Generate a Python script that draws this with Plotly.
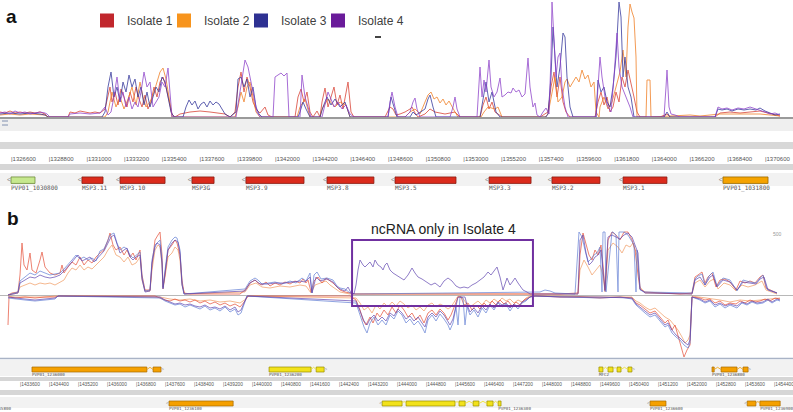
import plotly.graph_objects as go

W, H = 793, 412
FONT = "Liberation Sans, Arial, sans-serif"

# ---------------- Panel a: genomic window (coverage bins) ----------------
A_BIN = 58.36          # bp per coverage bin
A_ORIGIN = 1325958     # genomic position of bin 0

# coverage (bin, depth) for panel a
a_iso1 = [(0,5),(5,4),(10,6),(15,4),(20,5),(25,4),(30,5),(35,4),(40,5),(45,3),(48,0),(68,0),(70,5),(75,4),(80,6),(85,5),(90,4),(95,5),(100,4),(105,8),(108,20),(110,30),(112,15),(115,25),(118,12),(121,28),(124,20),(127,10),(130,25),(133,15),(136,30),(139,18),(142,10),(145,22),(148,8),(151,15),(154,30),(157,20),(160,35),(163,40),(166,30),(169,15),(172,3),(175,0),(180,3),(190,5),(200,6),(210,5),(220,4),(225,3),(230,0),(235,5),(238,30),(241,45),(244,25),(247,40),(250,30),(253,15),(256,8),(260,4),(265,10),(268,2),(272,0),(295,0),(298,20),(301,28),(304,15),(307,25),(310,5),(313,0),(317,6),(320,0),(322,15),(325,29),(328,10),(331,20),(334,30),(337,12),(340,22),(343,8),(346,25),(348,35),(351,5),(354,0),(385,0),(390,10),(393,8),(396,2),(400,3),(405,5),(410,8),(412,10),(415,4),(418,0),(425,3),(430,8),(435,5),(445,3),(455,5),(460,0),(480,0),(483,12),(486,20),(489,8),(492,15),(495,5),(498,3),(502,0),(540,0),(548,5),(551,30),(554,45),(557,20),(560,40),(563,15),(566,5),(570,0),(595,0),(598,15),(601,25),(604,12),(607,20),(610,5),(613,10),(616,25),(619,15),(622,40),(625,30),(628,47),(631,35),(634,20),(637,5),(640,0),(660,0),(667,3),(670,0),(715,0),(720,4),(730,5),(740,4),(750,5),(760,6),(768,4),(775,2),(780,1)]
a_iso2 = [(0,2),(10,3),(20,2),(30,3),(45,2),(48,0),(105,0),(108,5),(112,25),(116,10),(120,20),(124,8),(128,18),(132,30),(136,12),(140,35),(143,20),(146,10),(150,15),(154,25),(157,35),(160,45),(163,49),(166,38),(169,20),(172,0),(235,0),(238,10),(241,25),(244,15),(247,30),(250,35),(253,20),(256,5),(260,0),(297,0),(300,10),(305,18),(310,0),(320,0),(322,8),(328,18),(335,10),(340,15),(346,12),(350,0),(405,0),(410,5),(415,8),(420,3),(425,15),(428,22),(431,25),(434,18),(437,20),(440,14),(443,18),(446,12),(449,16),(452,10),(455,5),(458,0),(481,0),(484,5),(488,10),(495,8),(498,10),(502,0),(545,0),(548,3),(552,25),(555,40),(558,15),(562,20),(565,35),(567,38),(570,30),(573,35),(576,40),(579,35),(582,47),(585,38),(588,42),(591,30),(594,35),(596,5),(599,0),(600,10),(604,20),(608,8),(612,15),(616,30),(620,45),(623,67),(626,40),(628,90),(630,113),(632,105),(634,99),(636,60),(637,0),(646,0),(647,37),(650,37),(651,0),(690,2),(700,1),(720,3),(740,3),(760,3),(780,1)]
a_iso3 = [(0,3),(10,4),(20,3),(30,4),(40,3),(45,2),(48,0),(102,0),(105,5),(108,30),(111,45),(114,20),(117,30),(120,15),(123,35),(126,25),(129,42),(132,30),(135,38),(138,20),(141,30),(144,12),(147,25),(150,10),(153,20),(156,30),(159,25),(162,40),(165,35),(168,20),(171,5),(174,0),(183,0),(186,10),(189,17),(192,12),(195,16),(198,8),(201,13),(204,15),(207,10),(210,16),(213,12),(216,15),(219,13),(222,8),(225,3),(230,0),(236,5),(238,38),(241,40),(244,30),(247,38),(250,20),(253,30),(256,10),(259,3),(262,0),(298,0),(300,5),(303,15),(306,8),(310,0),(320,0),(323,10),(327,20),(331,12),(335,18),(340,10),(345,15),(350,0),(388,0),(391,20),(394,10),(397,0),(410,0),(413,5),(416,2),(425,8),(428,18),(430,22),(433,10),(436,0),(480,0),(483,20),(486,35),(489,15),(492,25),(496,5),(500,0),(546,0),(548,3),(551,40),(553,90),(555,60),(557,30),(560,50),(563,84),(565,80),(567,40),(570,10),(573,0),(596,0),(598,37),(601,25),(604,30),(607,15),(610,10),(613,30),(616,60),(619,115),(621,100),(623,40),(625,60),(628,30),(631,20),(634,0),(664,0),(667,5),(670,0),(715,0),(718,8),(722,7),(727,8),(732,6),(738,8),(744,7),(750,8),(756,7),(760,9),(765,6),(770,4),(775,2),(780,3)]
a_iso4 = [(0,4),(5,5),(10,3),(15,6),(20,4),(25,5),(30,3),(35,4),(40,5),(45,4),(47,3),(50,0),(68,0),(70,3),(80,4),(90,3),(100,4),(105,10),(108,2),(111,5),(114,20),(117,40),(120,15),(123,25),(126,10),(129,20),(132,8),(135,15),(138,10),(141,25),(144,45),(147,30),(150,35),(153,10),(156,15),(159,20),(162,35),(165,30),(168,49),(170,25),(172,0),(236,0),(239,20),(242,40),(245,57),(248,50),(251,35),(254,20),(257,5),(260,0),(273,0),(275,40),(278,42),(281,44),(284,41),(287,44),(289,0),(300,0),(302,42),(305,20),(308,10),(311,0),(322,0),(325,12),(328,25),(331,18),(334,10),(338,15),(342,8),(346,12),(350,3),(354,0),(388,0),(390,15),(392,25),(395,10),(398,0),(405,0),(410,5),(413,15),(415,19),(417,8),(420,0),(450,0),(453,10),(455,20),(457,8),(460,0),(477,0),(480,50),(482,20),(484,37),(486,25),(489,57),(491,30),(494,20),(497,25),(500,39),(502,20),(505,22),(508,25),(511,24),(513,29),(516,25),(519,27),(522,20),(525,23),(528,59),(530,30),(533,10),(535,14),(537,2),(540,0),(543,5),(546,9),(549,3),(551,60),(552,115),(554,70),(556,40),(558,60),(560,64),(562,30),(565,10),(568,0),(596,0),(598,30),(600,60),(602,40),(605,20),(608,10),(611,5),(614,40),(617,84),(619,50),(622,30),(626,20),(630,10),(633,0),(664,0),(666,30),(667,47),(669,10),(671,3),(675,2),(680,0),(715,0),(718,10),(722,8),(727,9),(732,7),(738,9),(744,8),(750,10),(756,8),(760,7),(765,5),(770,3),(775,4),(780,2)]

ruler_a = [1326600, 1328800, 1331000, 1333200, 1335400, 1337600, 1339800, 1342000,
           1344200, 1346400, 1348600, 1350800, 1353000, 1355200, 1357400, 1359600,
           1361800, 1364000, 1366200, 1368400, 1370600]

genes_a_name = ["PVP01_1030800", "MSP3.11", "MSP3.10", "MSP3G", "MSP3.9", "MSP3.8",
                "MSP3.5", "MSP3.3", "MSP3.2", "MSP3.1", "PVP01_1031800"]
genes_a_start = [1326600, 1330740, 1332960, 1337160, 1340310, 1345040, 1349010, 1354500, 1358170, 1362320, 1368150]
genes_a_end   = [1328000, 1331970, 1335590, 1338450, 1343700, 1347780, 1352570, 1356950, 1360970, 1364880, 1370780]
genes_a_type  = ["other", "msp3", "msp3", "msp3", "msp3", "msp3", "msp3", "msp3", "msp3", "msp3", "pvp"]

# ---------------- Panel b ----------------
B_BIN = 27.586
B_ORIGIN = 1433048

b_iso1_plus = [(8,0),(12,2),(18,3),(20,20),(22,52),(24,30),(27,25),(30,42),(32,25),(36,22),(40,35),(42,43),(45,28),(50,22),(55,20),(60,22),(62,30),(64,22),(68,28),(72,33),(76,30),(80,38),(84,30),(88,35),(92,32),(96,38),(100,42),(104,45),(108,55),(110,62),(113,50),(116,45),(120,48),(124,40),(127,45),(130,38),(133,42),(136,35),(140,45),(142,20),(145,5),(150,5),(152,30),(155,55),(158,60),(160,63),(162,40),(163,8),(165,20),(168,45),(172,50),(175,55),(177,52),(180,40),(182,15),(184,2),(190,1),(240,1),(245,5),(250,12),(255,15),(258,12),(262,10),(266,13),(270,9),(275,12),(280,10),(285,13),(290,11),(295,14),(300,12),(303,16),(306,12),(308,15),(311,3),(314,14),(318,18),(322,12),(326,17),(330,14),(333,12),(337,8),(340,5),(345,3),(350,2),(355,1),(530,1),(560,1),(578,2),(580,40),(583,62),(586,50),(589,40),(592,35),(595,45),(598,40),(601,50),(603,30),(605,5),(608,55),(612,63),(616,60),(620,55),(624,63),(628,63),(632,55),(635,45),(638,20),(640,6),(645,3),(660,2),(680,1),(692,2),(695,18),(698,20),(702,23),(705,12),(708,18),(712,22),(716,8),(720,15),(725,16),(730,13),(736,5),(740,14),(745,12),(750,14),(755,12),(760,18),(763,20),(766,7),(770,5),(777,2)]
b_iso2_plus = [(8,0),(18,2),(20,8),(25,10),(30,12),(35,10),(40,12),(45,11),(50,12),(55,10),(60,13),(64,15),(68,22),(72,27),(76,25),(80,30),(84,25),(88,28),(92,26),(96,30),(100,35),(104,38),(108,45),(112,50),(116,40),(120,38),(124,33),(128,38),(132,30),(136,32),(140,38),(142,15),(145,4),(150,4),(152,25),(155,45),(158,50),(160,48),(162,30),(163,6),(165,18),(168,38),(172,42),(175,48),(178,45),(180,35),(182,10),(185,1),(245,3),(250,10),(256,12),(262,8),(270,7),(280,9),(290,8),(300,10),(306,9),(311,2),(315,10),(320,12),(326,14),(330,10),(336,6),(340,3),(350,1),(578,1),(580,25),(584,35),(588,28),(592,20),(596,25),(600,30),(603,20),(605,3),(608,45),(613,52),(618,48),(622,42),(626,50),(630,48),(633,52),(637,40),(640,8),(645,2),(692,1),(695,12),(700,15),(705,8),(710,14),(714,16),(718,6),(724,12),(730,10),(736,4),(742,10),(748,8),(755,10),(762,14),(766,5),(777,1)]
b_iso3_plus = [(8,0),(18,3),(20,14),(25,18),(30,22),(35,20),(40,24),(45,22),(50,20),(55,21),(60,22),(64,26),(68,30),(72,35),(76,40),(80,36),(84,38),(88,35),(92,37),(96,34),(100,44),(104,46),(108,55),(110,60),(114,62),(117,52),(120,45),(124,48),(127,46),(130,40),(133,37),(136,40),(140,43),(142,18),(145,4),(150,5),(152,35),(155,50),(157,52),(160,55),(162,35),(163,7),(165,25),(168,48),(172,55),(175,58),(177,57),(180,45),(182,12),(184,1),(245,6),(250,14),(255,17),(258,15),(262,11),(268,12),(275,13),(282,11),(290,14),(296,12),(302,17),(306,14),(310,22),(312,2),(314,20),(317,23),(321,16),(327,17),(333,15),(337,9),(340,7),(345,6),(350,2),(355,1),(540,3),(545,5),(550,4),(555,2),(575,1),(579,63),(582,58),(585,45),(588,33),(591,36),(594,40),(597,42),(600,48),(602,3),(603,63),(605,63),(606,3),(612,63),(613,63),(616,60),(618,3),(619,63),(624,63),(628,60),(631,55),(634,50),(636,3),(637,45),(640,5),(645,3),(692,2),(695,16),(698,19),(702,21),(705,10),(709,19),(713,23),(717,9),(723,17),(730,15),(737,4),(743,15),(750,13),(756,12),(760,17),(763,20),(767,6),(772,4),(777,2)]
b_iso4_plus = [(8,0),(18,2),(20,12),(25,15),(30,18),(35,17),(40,20),(45,18),(50,17),(55,18),(60,20),(64,24),(68,28),(72,33),(76,38),(78,40),(82,34),(86,36),(90,38),(94,33),(100,40),(104,44),(108,52),(111,58),(114,60),(117,50),(120,42),(124,45),(127,47),(130,38),(133,35),(136,38),(140,40),(142,16),(145,3),(150,4),(152,32),(155,48),(157,52),(160,50),(162,32),(163,6),(165,22),(168,45),(172,52),(175,55),(178,53),(180,42),(182,10),(184,1),(245,4),(250,12),(255,15),(260,11),(268,11),(275,12),(285,12),(292,13),(300,14),(305,13),(310,18),(312,2),(316,18),(320,14),(327,16),(333,13),(337,8),(340,6),(345,4),(348,8),(351,2),(354,1),(356,10),(358,25),(360,35),(363,30),(365,28),(367,30),(370,33),(373,28),(375,35),(378,30),(381,28),(383,25),(385,30),(387,32),(390,25),(393,22),(396,20),(400,18),(404,15),(408,20),(412,27),(415,22),(418,18),(422,16),(427,13),(431,10),(435,12),(440,8),(444,14),(448,17),(452,14),(456,9),(460,7),(464,8),(468,7),(472,10),(476,12),(480,15),(484,18),(488,23),(491,20),(494,24),(497,28),(500,18),(503,5),(507,17),(510,10),(513,14),(515,17),(518,12),(521,8),(523,5),(527,3),(530,1),(560,1),(578,1),(580,55),(583,60),(586,42),(589,30),(592,33),(595,38),(598,40),(601,45),(603,25),(605,4),(608,58),(612,60),(616,58),(620,56),(624,60),(628,62),(632,58),(635,50),(638,42),(640,6),(645,2),(692,1),(695,15),(700,18),(705,10),(710,18),(713,20),(717,8),(723,15),(730,13),(737,5),(743,13),(750,12),(756,11),(760,16),(764,18),(768,5),(777,2)]

b_iso1_minus = [(8,-30),(9,-2),(15,-3),(25,-2),(35,-3),(45,-2),(55,-2),(60,-1),(155,-1),(160,-3),(165,-5),(170,-6),(175,-4),(180,-6),(185,-5),(190,-7),(195,-5),(200,-8),(205,-6),(210,-9),(215,-7),(220,-10),(225,-8),(230,-11),(235,-9),(240,-12),(245,-6),(248,-1),(350,-1),(356,-5),(360,-15),(363,-25),(366,-30),(370,-22),(373,-28),(377,-18),(380,-22),(384,-15),(388,-20),(392,-12),(396,-18),(400,-10),(404,-15),(408,-22),(412,-18),(416,-25),(420,-20),(424,-28),(428,-18),(432,-15),(436,-20),(440,-14),(444,-18),(448,-25),(451,-20),(455,-10),(458,-2),(461,-2),(464,-10),(468,-8),(472,-15),(476,-10),(480,-14),(484,-8),(488,-12),(492,-6),(496,-10),(500,-5),(504,-9),(508,-6),(512,-11),(516,-7),(520,-10),(524,-5),(528,-3),(532,-1),(540,-1),(560,-2),(580,-2),(600,-3),(620,-2),(632,-3),(636,-8),(640,-10),(645,-14),(650,-18),(655,-16),(660,-22),(665,-28),(668,-25),(672,-35),(675,-30),(678,-40),(681,-50),(684,-62),(687,-55),(690,-50),(692,-2),(700,-3),(705,-5),(710,-4),(715,-8),(720,-6),(725,-10),(730,-8),(736,-9),(740,-6),(745,-8),(750,-5),(755,-7),(760,-6),(765,-4),(770,-6),(775,-3),(780,-4)]
b_iso2_minus = [(8,-1),(15,-2),(30,-2),(45,-2),(55,-1),(160,-2),(170,-4),(180,-5),(190,-4),(200,-6),(210,-5),(220,-7),(230,-6),(240,-8),(246,-4),(248,-1),(356,-3),(360,-8),(364,-15),(368,-12),(372,-18),(376,-10),(380,-14),(384,-8),(388,-12),(392,-7),(396,-11),(400,-6),(404,-9),(408,-13),(412,-10),(416,-15),(420,-12),(424,-16),(428,-10),(432,-8),(436,-12),(440,-9),(444,-11),(448,-14),(451,-12),(455,-6),(458,-1),(462,-2),(466,-8),(470,-12),(474,-9),(478,-6),(482,-10),(486,-5),(490,-8),(494,-4),(498,-7),(502,-3),(506,-6),(510,-4),(514,-8),(518,-5),(522,-7),(526,-3),(530,-1),(560,-1),(600,-2),(632,-2),(636,-6),(640,-8),(645,-12),(650,-15),(655,-13),(660,-18),(665,-22),(670,-25),(674,-30),(678,-35),(682,-42),(685,-48),(688,-45),(690,-40),(692,-1),(700,-2),(710,-4),(720,-5),(730,-7),(740,-5),(750,-6),(760,-5),(770,-4),(780,-3)]
b_iso3_minus = [(8,-3),(15,-4),(25,-5),(35,-6),(45,-5),(55,-4),(58,-1),(160,-3),(165,-6),(170,-8),(175,-10),(180,-9),(185,-12),(190,-10),(195,-12),(200,-14),(205,-11),(210,-15),(215,-13),(220,-16),(225,-12),(230,-17),(235,-14),(238,-20),(241,-18),(244,-10),(247,-1),(356,-8),(360,-20),(364,-32),(367,-38),(370,-28),(374,-22),(378,-30),(382,-25),(386,-30),(390,-20),(394,-24),(398,-16),(402,-20),(406,-28),(410,-24),(414,-30),(418,-26),(422,-32),(425,-38),(428,-25),(432,-20),(436,-26),(440,-19),(444,-24),(448,-30),(450,-35),(453,-28),(456,-12),(458,-30),(460,-2),(463,-3),(465,-30),(467,-12),(470,-20),(474,-15),(478,-22),(482,-13),(486,-18),(490,-10),(494,-15),(498,-8),(502,-12),(506,-9),(510,-16),(514,-10),(518,-14),(522,-8),(526,-6),(530,-2),(535,-1),(560,-2),(600,-3),(620,-2),(632,-4),(636,-10),(640,-14),(645,-18),(650,-22),(655,-20),(660,-26),(665,-32),(668,-30),(672,-38),(676,-42),(680,-45),(684,-50),(688,-53),(690,-48),(692,-2),(700,-5),(705,-8),(710,-6),(715,-12),(720,-9),(725,-13),(730,-10),(737,-13),(742,-8),(747,-10),(752,-7),(757,-9),(763,-8),(768,-5),(772,-8),(777,-5),(780,-6)]
b_iso4_minus = [(8,-2),(15,-3),(25,-4),(35,-5),(45,-4),(55,-3),(58,-1),(160,-2),(165,-5),(170,-7),(175,-9),(180,-8),(185,-10),(190,-9),(195,-11),(200,-12),(205,-10),(210,-13),(215,-12),(220,-14),(225,-11),(230,-15),(235,-12),(238,-17),(241,-15),(244,-8),(247,-1),(356,-6),(360,-16),(364,-26),(367,-30),(370,-24),(374,-20),(378,-26),(382,-22),(386,-26),(390,-18),(394,-21),(398,-14),(402,-18),(406,-24),(410,-21),(414,-26),(418,-22),(422,-28),(425,-32),(428,-22),(432,-18),(436,-22),(440,-16),(444,-20),(448,-26),(450,-30),(453,-24),(456,-10),(458,-2),(465,-2),(467,-10),(470,-17),(474,-13),(478,-18),(482,-11),(486,-15),(490,-9),(494,-13),(498,-7),(502,-10),(506,-8),(510,-13),(514,-9),(518,-12),(522,-7),(526,-5),(530,-2),(535,-1),(560,-2),(600,-2),(632,-3),(636,-9),(640,-12),(645,-16),(650,-20),(655,-18),(660,-24),(665,-30),(668,-28),(672,-35),(676,-40),(680,-43),(684,-47),(688,-50),(690,-45),(692,-2),(700,-4),(705,-7),(710,-5),(715,-10),(720,-8),(725,-11),(730,-9),(737,-11),(742,-7),(747,-9),(752,-6),(757,-8),(763,-7),(768,-4),(772,-7),(777,-4),(780,-5)]

ruler_b = [1433600, 1434400, 1435200, 1436000, 1436800, 1437600, 1438400, 1439200,
           1440000, 1440800, 1441600, 1442400, 1443200, 1444000, 1444800, 1445600,
           1446400, 1447200, 1448000, 1448800, 1449600, 1450400, 1451200, 1452000,
           1452800, 1453600, 1454400]

# forward-strand genes (track above ruler)
genes_b1_name = ["PVP01_1236000", "PVP01_1236200", "MFC2", "PVP01_1236800"]
genes_b1_exons = [[(1433930, 1437100), (1437270, 1437490)],
                  [(1440470, 1441630), (1441770, 1441990)],
                  [(1449570, 1449680), (1449820, 1449960), (1450070, 1450180), (1450370, 1450480)],
                  [(1452690, 1452750), (1452940, 1453380), (1453545, 1453685)]]
genes_b1_label = [1433930, 1440470, 1449570, 1452690]
genes_b1_anchor = ["middle right"] * 4
genes_b1_type = ["orange", "yellow", "yellow", "orange"]

# reverse-strand genes (track below ruler)
genes_b2_name = ["PVP01_1235800", "PVP01_1236100", "PVP01_1236300", "PVP01_1236600", "PVP01_1236900"]
genes_b2_exons = [[(1432300, 1432700)],
                  [(1437710, 1439480)],
                  [(1443590, 1444140), (1444250, 1445600), (1445710, 1445880), (1446100, 1446260), (1446480, 1446650), (1446790, 1446870)],
                  [(1450980, 1451420)],
                  [(1453660, 1453900), (1454010, 1454570)]]
genes_b2_label = [1433350, 1437710, 1446790, 1450980, 1454020]
genes_b2_anchor = ["middle left", "middle right", "middle right", "middle right", "middle right"]
genes_b2_type = ["orange", "orange", "yellow", "orange", "orange"]

NCRNA_REGION = (1442760, 1447750)

# ---------------- styling ----------------
legend_names = ["Isolate 1", "Isolate 2", "Isolate 3", "Isolate 4"]
legend_colors = ["#c1272d", "#f7941d", "#2e3192", "#6a1b9a"]
a_colors = ["#d8392b", "#f07a1c", "#2d2f98", "#8a3cc8"]
b_colors = ["#e4462e", "#f0965a", "#5a78d2", "#5b3fae"]
gene_fill = {"msp3": "#db2b1c", "other": "#c6e88e", "pvp": "#f5a300",
             "orange": "#f5a000", "yellow": "#f2e21a"}
gene_line = {"msp3": "#8a1c12", "other": "#6e8c3a", "pvp": "#9a6a00",
             "orange": "#a86a00", "yellow": "#9a8e00"}


def dom(top_px, bot_px):
    return [max(0.0, 1 - bot_px / H), min(1.0, 1 - top_px / H)]


def track(box_px, label_px, pad=0.8):
    """Axis for a gene track: y=0 is the feature row, y=1 the label row."""
    u = label_px - box_px
    top = max(0.0, box_px - pad * u)
    bot = min(float(H), label_px + pad * u)
    return dict(domain=dom(top, bot), range=[(bot - box_px) / u, (top - box_px) / u],
                visible=False, showgrid=False, zeroline=False), u


def ax(b):
    return A_ORIGIN + b * A_BIN


def bx(b):
    return B_ORIGIN + b * B_BIN


fig = go.Figure()

# panel a coverage
for s, c in zip([a_iso1, a_iso2, a_iso3, a_iso4], a_colors):
    fig.add_trace(go.Scatter(x=[ax(p) for p, _ in s], y=[v for _, v in s], mode="lines",
                             line=dict(color=c, width=1), opacity=0.75,
                             xaxis="x", yaxis="y", showlegend=False, hoverinfo="skip"))

# legend entries (plus an empty spacer so the last label is not clipped)
for n, c in zip(legend_names, legend_colors):
    fig.add_trace(go.Scatter(x=[None], y=[None], mode="markers", name=n,
                             marker=dict(symbol="square", size=14, color=c),
                             xaxis="x", yaxis="y"))
fig.add_trace(go.Scatter(x=[None], y=[None], mode="markers", name=" ",
                         marker=dict(symbol="square", size=14, color="rgba(0,0,0,0)"),
                         xaxis="x", yaxis="y", hoverinfo="skip"))

# panel a ruler
fig.add_trace(go.Scatter(x=ruler_a, y=[0.5] * len(ruler_a), mode="text",
                         text=["|" + str(v) for v in ruler_a], textposition="middle right",
                         textfont=dict(size=6, color="#555555", family=FONT),
                         xaxis="x", yaxis="y2", showlegend=False, hoverinfo="skip", cliponaxis=False))

# panel a genes
ya3, ua = track(180.2, 188.5)
fig.add_trace(go.Bar(orientation="h", y=[0] * len(genes_a_start),
                     base=genes_a_start,
                     x=[e - s for s, e in zip(genes_a_start, genes_a_end)],
                     width=6.5 / ua,
                     marker=dict(color=[gene_fill[t] for t in genes_a_type],
                                 line=dict(color=[gene_line[t] for t in genes_a_type], width=0.8)),
                     xaxis="x", yaxis="y3", showlegend=False, hoverinfo="skip"))
fig.add_trace(go.Scatter(x=genes_a_start, y=[0] * len(genes_a_start), mode="text",
                         text=["<"] * len(genes_a_start), textposition="middle left",
                         textfont=dict(size=7, color="#888888", family=FONT),
                         xaxis="x", yaxis="y3", showlegend=False, hoverinfo="skip", cliponaxis=False))
fig.add_trace(go.Scatter(x=genes_a_start, y=[1] * len(genes_a_start), mode="text",
                         text=genes_a_name, textposition="middle right",
                         textfont=dict(size=6, color="#555555", family="DejaVu Sans Mono"),
                         xaxis="x", yaxis="y3", showlegend=False, hoverinfo="skip", cliponaxis=False))

# panel b coverage
for plus, minus, c in zip([b_iso2_plus, b_iso1_plus, b_iso3_plus, b_iso4_plus],
                          [b_iso2_minus, b_iso1_minus, b_iso3_minus, b_iso4_minus],
                          [b_colors[1], b_colors[0], b_colors[2], b_colors[3]]):
    for s in (plus, minus):
        fig.add_trace(go.Scatter(x=[bx(p) for p, _ in s], y=[v for _, v in s], mode="lines",
                                 line=dict(color=c, width=0.9), opacity=0.75,
                                 xaxis="x2", yaxis="y4", showlegend=False, hoverinfo="skip"))


def add_gene_track(names, exons, labels, anchors, types, yaxis, strand, u, box_h, label_size):
    for name, ex, lab, anc, t in zip(names, exons, labels, anchors, types):
        fig.add_trace(go.Bar(orientation="h", y=[0] * len(ex), base=[s for s, _ in ex],
                             x=[e - s for s, e in ex], width=box_h / u,
                             marker=dict(color=gene_fill[t], line=dict(color=gene_line[t], width=0.7)),
                             xaxis="x2", yaxis=yaxis, showlegend=False, hoverinfo="skip"))
        for (s0, e0), (s1, e1) in zip(ex[:-1], ex[1:]):
            fig.add_trace(go.Scatter(x=[e0, (e0 + s1) / 2, s1], y=[0, -0.4, 0], mode="lines",
                                     line=dict(color=gene_fill[t], width=0.8),
                                     xaxis="x2", yaxis=yaxis, showlegend=False, hoverinfo="skip"))
        if strand > 0:
            fig.add_trace(go.Scatter(x=[ex[-1][1]], y=[0], mode="text", text=[">"],
                                     textposition="middle right",
                                     textfont=dict(size=5, color="#999999", family=FONT),
                                     xaxis="x2", yaxis=yaxis, showlegend=False, hoverinfo="skip",
                                     cliponaxis=False))
        elif ex[0][0] >= bx(0):
            fig.add_trace(go.Scatter(x=[ex[0][0]], y=[0], mode="text", text=["<"],
                                     textposition="middle left",
                                     textfont=dict(size=5, color="#999999", family=FONT),
                                     xaxis="x2", yaxis=yaxis, showlegend=False, hoverinfo="skip",
                                     cliponaxis=False))
        fig.add_trace(go.Scatter(x=[lab], y=[1], mode="text", text=[name],
                                 textposition=anc,
                                 textfont=dict(size=label_size, color="#555555", family="DejaVu Sans Mono"),
                                 xaxis="x2", yaxis=yaxis, showlegend=False, hoverinfo="skip",
                                 cliponaxis=False))


ya5, u5 = track(369.5, 375.0)
ya7, u7 = track(403.5, 409.0)
add_gene_track(genes_b1_name, genes_b1_exons, genes_b1_label, genes_b1_anchor, genes_b1_type,
               "y5", 1, u5, 5.0, 4.2)
add_gene_track(genes_b2_name, genes_b2_exons, genes_b2_label, genes_b2_anchor, genes_b2_type,
               "y7", -1, u7, 5.0, 4.2)

fig.add_trace(go.Scatter(x=ruler_b, y=[0.5] * len(ruler_b), mode="text",
                         text=["|" + str(v) for v in ruler_b], textposition="middle right",
                         textfont=dict(size=4.8, color="#555555", family=FONT),
                         xaxis="x2", yaxis="y6", showlegend=False, hoverinfo="skip", cliponaxis=False))

# ---------------- decorations ----------------
def band(top, bot, color, x0=0, x1=1):
    return dict(type="rect", xref="paper", yref="paper", x0=x0, x1=x1,
                y0=1 - bot / H, y1=1 - top / H, fillcolor=color, line=dict(width=0), layer="below")


def hline(ypx, x0px, x1px, color, width):
    return dict(type="line", xref="paper", yref="paper", x0=x0px / W, x1=x1px / W,
                y0=1 - ypx / H, y1=1 - ypx / H, line=dict(color=color, width=width))


shapes = [
    band(118, 131, "#efefef"),
    band(142, 149, "#d8d8d8"),
    band(164, 170, "#d6d6d6"),
    band(173, 186, "#f2f2f2"),
    hline(121, 2, 8, "#8090b0", 1),
    hline(125, 2, 8, "#8090b0", 1),
    hline(37, 375, 381, "#444444", 2),
    hline(358.5, 0, 793, "#a9b3c6", 1.5),
    band(360, 376, "#f2f2f2"),
    band(377, 381, "#d6d6d6"),
    band(390, 395, "#d6d6d6"),
    band(397, 408, "#f2f2f2"),
    dict(type="rect", xref="x2", yref="y4", x0=NCRNA_REGION[0], x1=NCRNA_REGION[1],
         y0=-11, y1=55, line=dict(color="#7030a0", width=2), fillcolor="rgba(0,0,0,0)"),
]

annotations = [
    dict(text="<b>a</b>", x=4 / W, y=1 - 17 / H, xref="paper", yref="paper", xanchor="left",
         yanchor="middle", showarrow=False, font=dict(size=19, color="#111111", family=FONT)),
    dict(text="<b>b</b>", x=5 / W, y=1 - 218 / H, xref="paper", yref="paper", xanchor="left",
         yanchor="middle", showarrow=False, font=dict(size=19, color="#111111", family=FONT)),
    dict(text="ncRNA only in Isolate 4", x=443 / W, y=1 - 229 / H, xref="paper", yref="paper",
         xanchor="center", yanchor="middle", showarrow=False,
         font=dict(size=14, color="#222222", family=FONT)),
    dict(text="500", x=777 / W, y=1 - 234 / H, xref="paper", yref="paper", xanchor="center",
         yanchor="middle", showarrow=False, font=dict(size=5, color="#999999", family=FONT)),
]

hidden = dict(visible=False, showgrid=False, zeroline=False)

fig.update_layout(
    width=W, height=H, margin=dict(l=0, r=0, t=0, b=0),
    paper_bgcolor="white", plot_bgcolor="white", barmode="overlay",
    font=dict(family=FONT),
    xaxis=dict(domain=[0, 1], range=[ax(0), ax(W)], anchor="y", showgrid=False, zeroline=False,
               showticklabels=False, ticks="", showline=True, linecolor="#9a9a9a", linewidth=2),
    yaxis=dict(domain=dom(0, 117), range=[0, 117], anchor="x", **hidden),
    yaxis2=dict(domain=dom(154, 165), range=[0, 1], anchor="x", **hidden),
    yaxis3=dict(anchor="x", **ya3),
    xaxis2=dict(domain=[0, 1], range=[bx(0), bx(W)], anchor="y4", **hidden),
    yaxis4=dict(domain=dom(230, 360), range=[-65, 65], anchor="x2", showgrid=False,
                zeroline=True, zerolinecolor="#b8b8b8", zerolinewidth=1,
                showticklabels=False, ticks="", showline=False),
    yaxis5=dict(anchor="x2", **ya5),
    yaxis6=dict(domain=dom(380, 389), range=[0, 1], anchor="x2", **hidden),
    yaxis7=dict(anchor="x2", **ya7),
    legend=dict(orientation="h", x=87 / W, y=1 - 6 / H, xanchor="left", yanchor="top",
                font=dict(size=12, color="#404040", family=FONT), entrywidth=32,
                entrywidthmode="pixels", itemwidth=30, bgcolor="rgba(0,0,0,0)",
                traceorder="normal"),
    shapes=shapes, annotations=annotations,
)

fig.write_html("out.html", config={"displayModeBar": False},
               post_script="document.body.style.margin='0px';document.body.style.overflow='hidden';")
